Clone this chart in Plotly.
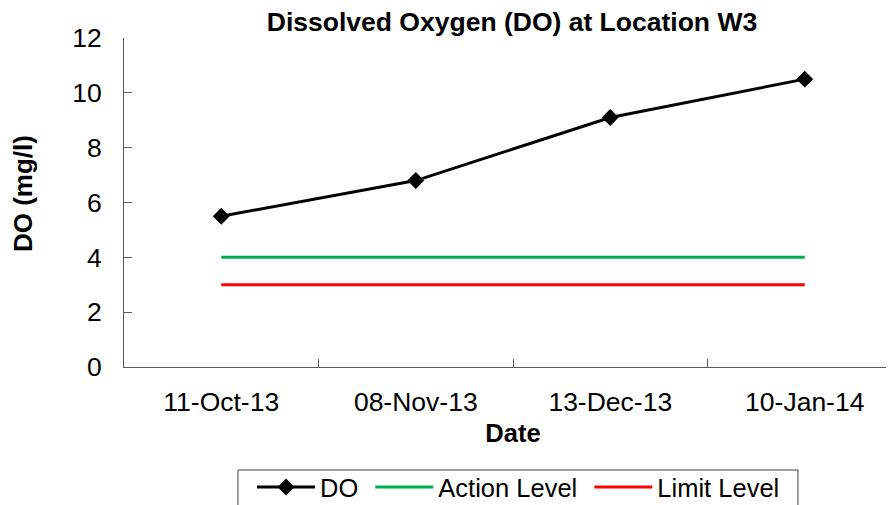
import plotly.graph_objects as go

dates = ["11-Oct-13", "08-Nov-13", "13-Dec-13", "10-Jan-14"]
do_values = [5.5, 6.8, 9.1, 10.5]
action_level = [4, 4, 4, 4]
limit_level = [3, 3, 3, 3]
y_ticks = [0, 2, 4, 6, 8, 10, 12]

FONT = "Liberation Sans, Arial, sans-serif"

fig = go.Figure()
fig.add_trace(go.Scatter(x=dates, y=do_values, name="DO ", mode="lines+markers",
                         line=dict(color="black", width=3),
                         marker=dict(symbol="diamond", size=13, color="black")))
fig.add_trace(go.Scatter(x=dates, y=action_level, name="Action Level ", mode="lines",
                         line=dict(color="#00B050", width=3)))
fig.add_trace(go.Scatter(x=dates, y=limit_level, name="Limit Level", mode="lines",
                         line=dict(color="#FF0000", width=3)))

fig.update_layout(
    width=894, height=505,
    margin=dict(l=116, r=0, t=30, b=146),
    paper_bgcolor="white", plot_bgcolor="white",
    font=dict(family=FONT, color="black", size=26.5),
    title=dict(text="<b>Dissolved Oxygen (DO) at Location W3</b>",
               x=0.4987, xref="paper", xanchor="center",
               y=1 - 14 / 505, yref="container", yanchor="middle",
               font=dict(size=26.5, family=FONT, color="black")),
    xaxis=dict(type="category", range=[-0.5, 3.5], showgrid=False, zeroline=False,
               showline=True, linecolor="#595959", linewidth=1,
               ticks="inside", ticklen=8, tickcolor="#595959", tickson="boundaries",
               tickfont=dict(size=26.5), ticklabelstandoff=11,
               title=dict(text="<b>Date</b>", font=dict(size=25.5), standoff=8)),
    yaxis=dict(range=[0, 12], tickvals=y_ticks, showgrid=False, zeroline=False,
               showline=True, linecolor="#595959", linewidth=1,
               ticks="inside", ticklen=8, tickcolor="#595959",
               tickfont=dict(size=26.5), ticklabelstandoff=16),
    annotations=[dict(text="<b>DO (mg/l)</b>", textangle=-90, showarrow=False,
                      xref="paper", yref="paper", x=-0.1298, y=0.5258,
                      xanchor="center", yanchor="middle",
                      font=dict(size=26, family=FONT, color="black"))],
    legend=dict(orientation="h", x=0.1645, xanchor="left", y=-0.2948, yanchor="top",
                borderwidth=0, font=dict(size=25.5),
                itemwidth=58, bgcolor="rgba(0,0,0,0)"),
    shapes=[dict(type="rect", xref="paper", yref="paper",
                 x0=0.1465, x1=0.8663, y0=-0.3131, y1=-0.49,
                 line=dict(color="#404040", width=1), fillcolor="rgba(0,0,0,0)",
                 layer="below")],
    showlegend=True,
)

fig.write_html("out.html")
